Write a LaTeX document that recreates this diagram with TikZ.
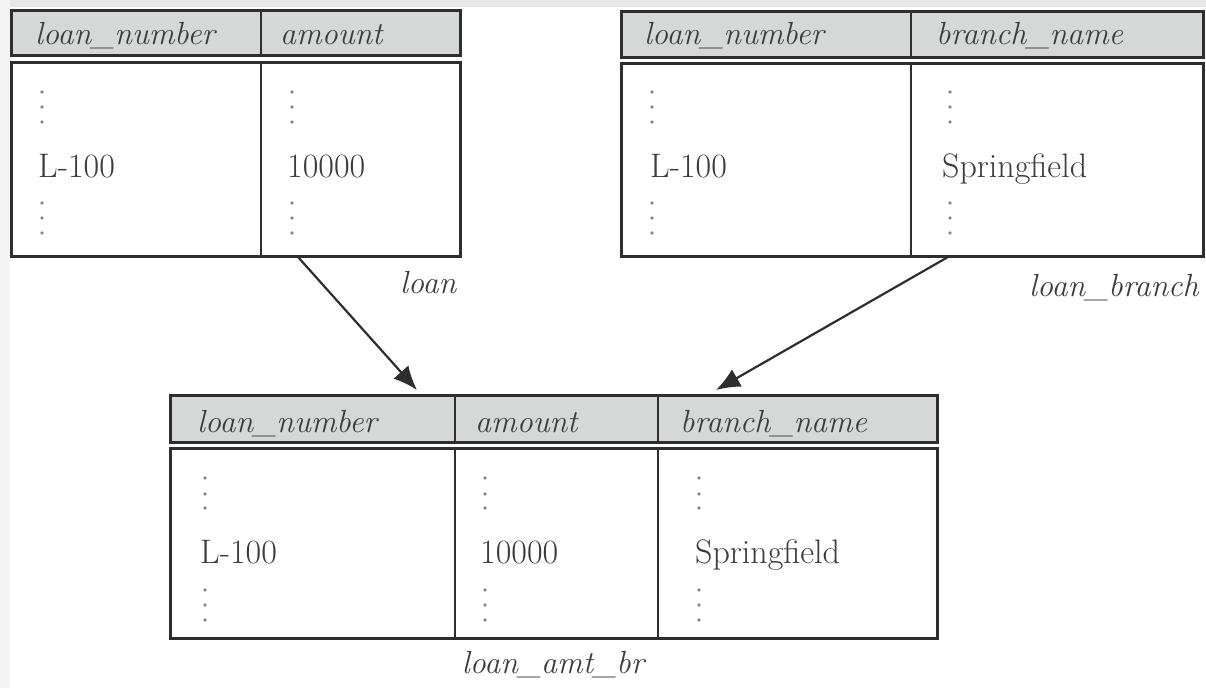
\documentclass[tikz,border=0pt]{standalone}
\usetikzlibrary{arrows.meta}
\definecolor{hdrgray}{HTML}{D6D8D8}
\definecolor{edge}{HTML}{2E2E2E}
\definecolor{dotc}{HTML}{8A8A8A}
\definecolor{txt}{HTML}{3C3C3C}
\definecolor{topband}{HTML}{E8E8E8}
\definecolor{leftband}{HTML}{F4F4F4}
\begin{document}
\begin{tikzpicture}[x=1pt,y=-1pt,
  box/.style={draw=edge, line width=3pt, inner sep=0pt, outer sep=0pt, anchor=north west},
  hdr/.style={box, fill=hdrgray},
  body/.style={box, fill=white},
  div/.style={draw=edge, line width=2.5pt},
  htext/.style={anchor=base west, inner sep=0pt, font=\fontsize{32}{38}\selectfont\itshape, text=txt},
  vtext/.style={anchor=base west, inner sep=0pt, font=\fontsize{34}{40}\selectfont, text=txt},
  ltext/.style={inner sep=0pt, font=\fontsize{32}{38}\selectfont\itshape, text=txt},
  link/.style={draw=edge, line width=2.2pt, -{Latex[length=24pt,width=20pt]}}
]
\useasboundingbox (0,0) rectangle (1206,688);
\fill[white] (0,0) rectangle (1206,688);
\fill[topband] (0,0) rectangle (1206,7);
\fill[leftband] (0,0) rectangle (10,688);

% ---- loan ----
\node[hdr, minimum width=449pt, minimum height=45pt] (loanH) at (11,10) {};
\node[body, minimum width=449pt, minimum height=194pt] (loanB) at (11,62) {};
\draw[div] (261,10) -- (261,55);
\draw[div] (261,62) -- (261,256);
\node[htext] (loanH1) at (35,44) {loan\_number};
\node[htext] (loanH2) at (280,44) {amount};
\node[vtext] (loanV1) at (38,177) {L-100};
\node[vtext] (loanV2) at (287,177) {10000};
\node[ltext, anchor=base west] (loanLbl) at (400,293) {loan};

% ---- loan_branch ----
\node[hdr, minimum width=582pt, minimum height=46pt] (lbH) at (621,11) {};
\node[body, minimum width=582pt, minimum height=193pt] (lbB) at (621,63) {};
\draw[div] (911,11) -- (911,57);
\draw[div] (911,63) -- (911,256);
\node[htext] (lbH1) at (644,44) {loan\_number};
\node[htext] (lbH2) at (936,44) {branch\_name};
\node[vtext] (lbV1) at (650,177) {L-100};
\node[vtext] (lbV2) at (942,177) {Springfield};
\node[ltext, anchor=base west] (lbLbl) at (1029,296) {loan\_branch};

% ---- loan_amt_br ----
\node[hdr, minimum width=767pt, minimum height=47pt] (labH) at (170,395) {};
\node[body, minimum width=767pt, minimum height=190pt] (labB) at (170,448) {};
\draw[div] (455,395) -- (455,442);
\draw[div] (455,448) -- (455,638);
\draw[div] (658,395) -- (658,442);
\draw[div] (658,448) -- (658,638);
\node[htext] (labH1) at (197,432) {loan\_number};
\node[htext] (labH2) at (475,432) {amount};
\node[htext] (labH3) at (680,432) {branch\_name};
\node[vtext] (labV1) at (200,563) {L-100};
\node[vtext] (labV2) at (480,563) {10000};
\node[vtext] (labV3) at (695,563) {Springfield};
\node[ltext, anchor=base] (labLbl) at (553,673) {loan\_amt\_br};

% ---- vertical ellipses ----
\foreach \x in {42,292,652,950}{
  \foreach \y in {92,107,122,203,218,233}{
    \fill[dotc] (\x,\y) circle (1.8pt);
  }
}
\foreach \x in {205,485,699}{
  \foreach \y in {478,494,508,590,605,620}{
    \fill[dotc] (\x,\y) circle (1.8pt);
  }
}

% ---- connectors ----
\coordinate (a1s) at (298,257);
\coordinate (a1e) at (417,390);
\coordinate (a2s) at (948,257);
\coordinate (a2e) at (716,390);
\draw[link] (a1s) -- (a1e);
\draw[link] (a2s) -- (a2e);
\end{tikzpicture}
\end{document}
